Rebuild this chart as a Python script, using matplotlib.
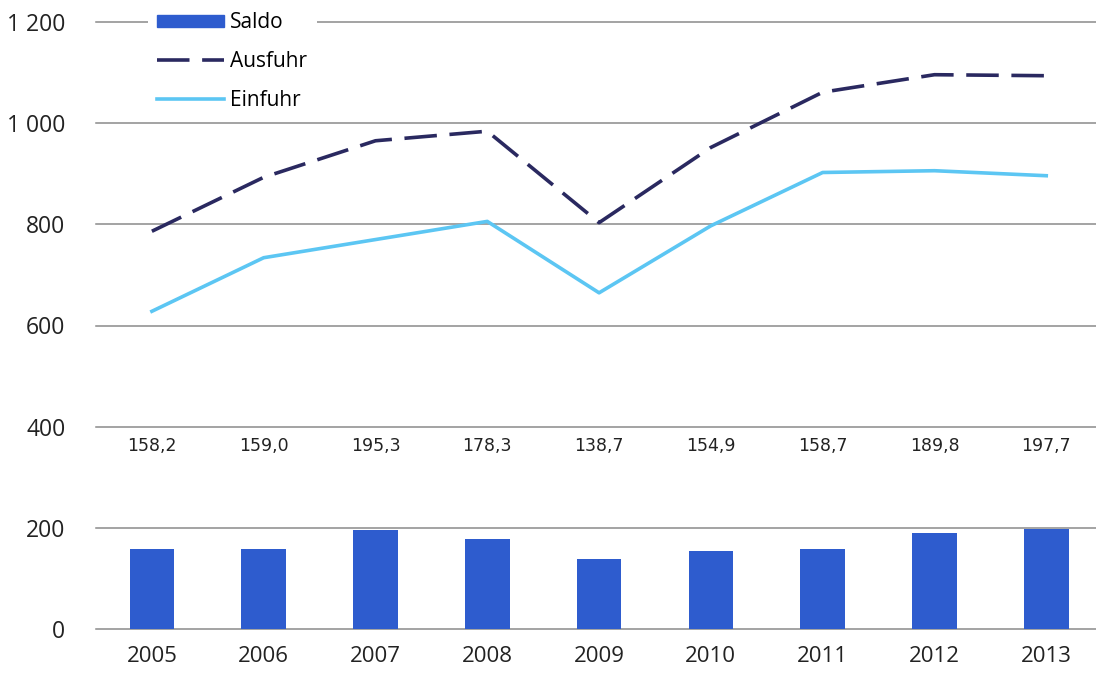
import matplotlib.pyplot as plt
from matplotlib.patches import Patch
from matplotlib.lines import Line2D

# --- Daten ---
jahre = ['2005', '2006', '2007', '2008', '2009', '2010', '2011', '2012', '2013']
ausfuhr = [786.3, 893.0, 965.2, 984.1, 803.3, 952.0, 1061.2, 1095.8, 1093.8]
einfuhr = [628.1, 734.0, 769.9, 805.8, 664.6, 797.1, 902.5, 906.0, 896.1]
saldo = [158.2, 159.0, 195.3, 178.3, 138.7, 154.9, 158.7, 189.8, 197.7]
saldo_text = ['158,2', '159,0', '195,3', '178,3', '138,7', '154,9', '158,7', '189,8', '197,7']
y_ticks = [0, 200, 400, 600, 800, 1000, 1200]
y_tick_text = ['0', '200', '400', '600', '800', '1 000', '1 200']

c_saldo = '#2e5cce'
c_aus = '#2a2960'
c_ein = '#5cc6f3'

plt.rcParams['font.family'] = ['Open Sans', 'DejaVu Sans']

fig = plt.figure(figsize=(10.96, 6.73), dpi=100)
ax = fig.add_axes([96 / 1096, 1 - 629 / 673, 1 - 96 / 1096, (629 - 22) / 673])

x = list(range(len(jahre)))
ax.bar(x, saldo, width=0.4, color=c_saldo, zorder=3)
ax.plot(x, ausfuhr, color=c_aus, lw=2.6, dashes=(9, 3.5), zorder=4)
ax.plot(x, einfuhr, color=c_ein, lw=2.6, zorder=4)

for i, t in enumerate(saldo_text):
    ax.text(i, 362, t, ha='center', va='center', fontsize=12.5,
            family='DejaVu Sans', color='#222222')

ax.set_xlim(-0.5, 8.445)
ax.set_ylim(0, 1200)
ax.set_yticks(y_ticks)
ax.set_yticklabels(y_tick_text, fontsize=16.5, color='#222222')
ax.set_xticks(x)
ax.set_xticklabels(jahre, fontsize=16, color='#222222')
ax.tick_params(length=0)
ax.tick_params(axis='y', pad=22)
ax.tick_params(axis='x', pad=12)
ax.grid(axis='y', color='#8a8a8a', lw=1.1, zorder=2)
for gl in ax.yaxis.get_gridlines():
    gl.set_clip_on(False)
for s in ax.spines.values():
    s.set_visible(False)

handles = [Patch(color=c_saldo),
           Line2D([], [], color=c_aus, lw=2.6, dashes=(9, 3.5)),
           Line2D([], [], color=c_ein, lw=2.6)]
leg = fig.legend(handles, ['Saldo', 'Ausfuhr', 'Einfuhr'], loc='upper left',
                 bbox_to_anchor=(148 / 1096, 1 - 3 / 673), fontsize=15,
                 frameon=True, facecolor='white', edgecolor='none', framealpha=1,
                 fancybox=False, handlelength=3.2, handleheight=0.55,
                 handletextpad=0.3, labelspacing=0.85, borderpad=0.45,
                 borderaxespad=0)
leg.set_zorder(5)

fig.savefig('out.png', dpi=100)
